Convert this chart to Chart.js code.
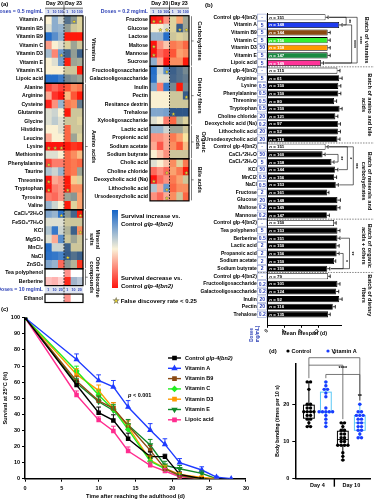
<!DOCTYPE html>
<html><head><meta charset="utf-8">
<script src="https://cdn.jsdelivr.net/npm/chart.js@4.4.1/dist/chart.umd.min.js"></script>
<style>
html,body{margin:0;padding:0;background:#fff;}
body{width:374px;height:500px;position:relative;overflow:hidden;font-family:'Liberation Sans',Arial,sans-serif;font-weight:bold;color:#000;}
canvas{position:absolute;}
.t{position:absolute;white-space:nowrap;line-height:1;}
</style></head><body>
<canvas id="ha" width="100" height="308" style="left:0px;top:0px"></canvas>
<canvas id="hb" width="124" height="206" style="left:88px;top:0px"></canvas>
<canvas id="cb" width="174" height="342" style="left:200px;top:0px"></canvas>
<canvas id="cc" width="252" height="195" style="left:0px;top:305px"></canvas>
<canvas id="cd" width="124" height="160" style="left:250px;top:340px"></canvas>
<div class="t" style="left:1px;top:1px;font-size:6px">(a)</div>
<div class="t" style="left:205px;top:2px;font-size:6px">(b)</div>
<div class="t" style="left:1px;top:306px;font-size:6px">(c)</div>
<div class="t" style="left:269px;top:348px;font-size:6px">(d)</div>
<div style="position:absolute;left:112px;top:210px;width:6px;height:78px;background:linear-gradient(to bottom,rgb(20,100,200),rgb(250,242,216) 50%,rgb(255,20,15));"></div>
<div class="t" style="left:121px;top:212px;font-size:6px;line-height:8px">Survival increase vs.<br>Control <i>glp-4(bn2)</i></div>
<div class="t" style="left:121px;top:274px;font-size:6px;line-height:8px">Survival decrease vs.<br>Control <i>glp-4(bn2)</i></div>
<div class="t" style="left:113px;top:297px;font-size:6px"><span style="color:#ffe81a;-webkit-text-stroke:0.4px #777;font-size:7px">★</span> False discovery rate &lt; 0.25</div>
<script>
// ================= DATA =================
const doseTicks = ['1','10','100','1','10','100'];
const doseTicksEth = ['1','10','20','1','10','20'];
const leftLabels = ['Doses = 0.5 mg/mL','Vitamin A','Vitamin B5','Vitamin B9','Vitamin C','Vitamin D3','Vitamin E','Vitamin K1','Lipoic acid','Alanine','Arginine','Cysteine','Glutamine','Glycine','Histidine','Leucine','Lysine','Methionine','Phenylalanine','Taurine','Threonine','Tryptophan','Tyrosine','Valine','CaCl₂*2H₂O','FeSO₄*7H₂O','KCl','MgSO₄','MnCl₂','NaCl','ZnSO₄','Tea polyphenol','Berberine','Doses = 10 mg/mL','Ethanol'];
const leftValues = [
 null,
 [0.0,0.35,0.1,0.7,0.4,0.05],
 [0.05,0.35,0.3,0.35,0.1,0.05],
 [0.9,0.6,0.35,-1,-1,-1],
 [-0.25,0.0,0.05,0.05,0.3,0.1],
 [0.25,-0.35,0.5,0.8,0.35,0.85],
 [0.0,0.05,0.45,-0.95,0.3,0.25],
 [0.0,0.0,0.0,0.1,0.1,-1],
 [0.9,0.9,0.75,0.5,0.4,0.3],
 [-0.7,-0.5,-0.7,-0.6,-0.3,-0.4],
 [-0.2,-0.8,-1,-0.1,-0.6,-1],
 [-0.9,-0.3,0.3,-0.4,-0.3,0.6],
 [0.05,0.1,0.0,-1,0.1,0.1],
 [0.05,0.15,0.05,0.1,0.1,0.05],
 [0.0,0.0,0.05,-0.5,0.1,0.1],
 [-0.2,0.0,0.0,-0.5,0.3,0.05],
 [-1,-1,-1,-1,-0.8,-0.9],
 [0.05,0.05,0.0,-0.5,-0.3,-0.1],
 [-0.7,-0.4,-0.4,-0.5,-0.4,-0.5],
 [0.2,0.1,0.3,-0.5,-0.4,0.3],
 [-1,-0.2,-0.3,-1,-0.05,0.05],
 [-1,-0.4,-0.3,-1,-0.3,-0.3],
 [-0.4,-0.5,-0.3,0.3,0.4,-0.2],
 [0.3,0.1,0.0,-1,0.05,-0.2],
 [0.4,0.3,0.85,0.4,0.8,-1],
 [0.05,0.05,0.05,0.1,0.1,0.1],
 [0.2,0.8,0.1,0.2,0.85,-0.3],
 [0.05,-0.2,0.6,0.1,0.3,0.1],
 [0.9,0.1,0.1,0.85,0.1,0.1],
 [0.85,0.8,0.7,0.9,0.7,0.85],
 [0.4,0.3,-0.5,0.4,0.2,-0.8],
 [0.0,0.0,0.0,-0.35,0.0,0.0],
 [-0.15,-0.2,-0.1,-0.9,0.3,0.2],
 null,
 [0.0,0.0,0.0,-0.35,0.0,0.0]
];
const leftStars = [[1,4],[5,2],[16,0],[16,1],[16,2],[18,0],[20,0],[21,0],[21,3],[24,2],[24,5],[26,5],[29,3]];
const rightLabels = ['Doses = 0.2 mg/mL','Fructose','Glucose','Lactose','Maltose','Mannose','Sucrose','Fructooligosaccharide','Galactooligosaccharide','Inulin','Pectin','Resitance dextrin','Trehalose','Xylooligosaccharide','Lactic acid','Propionic acid','Sodium acetate','Sodium butyrate','Cholic acid','Choline chloride','Deoxycholic acid (Na)','Lithocholic acid','Ursodeoxycholic acid'];
const rightValues = [
 null,
 [-1,-0.9,-0.3,0.05,-0.2,0.3],
 [0.0,0.0,0.05,0.05,0.9,0.3],
 [0.3,0.3,0.9,0.1,0.05,0.1],
 [-1,-0.3,-0.1,-0.4,-0.3,-0.5],
 [-1,-0.5,-0.7,-0.6,-0.2,-0.3],
 [0.35,-0.2,-1,-0.3,-0.3,-1],
 [0.9,0.1,0.6,0.85,0.7,0.5],
 [0.85,0.05,0.05,0.8,0.7,0.6],
 [0.4,-0.4,0.8,0.5,-1,0.5],
 [0.0,0.0,0.0,0.1,0.1,0.9],
 [0.0,0.0,0.0,0.1,0.1,0.1],
 [0.4,0.4,0.45,0.95,0.95,0.95],
 [0.05,0.0,-0.4,-0.5,0.2,0.05],
 [0.3,0.3,0.1,0.3,0.3,0.1],
 [-0.3,-0.3,-0.2,-0.4,-0.2,0.0],
 [-0.2,-0.6,-0.2,-0.3,-0.6,-0.1],
 [0.0,-0.1,-0.3,0.1,0.1,0.1],
 [0.05,0.0,-0.1,-0.3,0.05,-0.4],
 [-0.5,-0.3,-0.5,-0.2,-0.4,-1],
 [-1,-0.5,-0.3,-0.4,-0.2,0.1],
 [0.2,-0.2,0.5,-0.5,-0.3,-0.3],
 [-0.3,-0.5,-0.2,-0.3,0.1,-0.5]
];
const rightStars = [[1,0],[1,1],[2,1],[2,2],[2,4],[2,5],[4,0],[5,0],[7,2],[10,5],[12,3],[19,2],[19,5],[20,0],[21,2],[22,2]];

const bLabels = ['Control glp-4(bn2)','Vitamin A','Vitamin B9','Vitamin C','Vitamin D3','Vitamin E','Lipoic acid','Control glp-4(bn2)','Arginine','Lysine','Phenylalanine','Threonine','Tryptophan','Choline chloride','Deoxycholic acid (Na)','Lithocholic acid','Ursodeoxycholic acid','Control glp-4(bn2)','CaCl₂*2H₂O','CaCl₂*2H₂O','KCl','MnCl2','NaCl','Fructose','Glucose','Maltose','Mannose','Control glp-4(bn2)','Tea polyphenol','Berberine','Lactic acid','Propanoic acid','Sodium acetate','Sodium butyrate','Control glp-4(bn2)','Fructooligosaccharide','Galactooligosaccharide','Inulin','Pectin','Trehalose'];
const bDoses = ['-','5','5','5','50','5','5','-','5','0.5','0.5','0.5','0.5','20','0.2','20','20','-','50','5','50','0.5','0.5','2','20','0.2','0.2','-','5','0.5','2','2','2','2','-','0.2','0.2','20','20','0.2'];
const bMean = [13.7,16.9,14.2,14.2,14.2,14.2,12.6, 16.5,16.9,16.7,16.7,15.7,17.0,16.0,16.6,16.6,16.5, 13.7,13.0,15.1,15.9,15.7,16.1,14.1,16.5,16.5,14.0, 15.7,16.5,16.5,16.3,16.3,15.7,14.1, 14.3,16.5,16.2,16.9,15.4,14.3];
const bErr = [0.6,0.7,0.6,0.6,0.6,0.6,0.6, 0.6,0.7,0.6,0.6,0.6,0.6,0.6,0.6,0.6,0.6, 0.6,0.6,0.6,0.7,0.6,0.6,0.4,0.7,0.6,0.6, 0.5,0.6,0.6,0.6,0.6,0.4,0.6, 0.5,0.6,0.6,0.7,0.6,0.5];
const bN = [151,148,144,156,158,147,149, 115,61,150,150,80,150,121,97,52,116, 151,160,158,144,156,153,161,148,149,147, 150,153,151,150,156,150,150, 79,101,124,92,116,135];
const bBatches = [[0,6,['Batch of vitamins']],[7,16,['Batch of amino and bile','acids']],[17,26,['Batch of minerals and','carbohydrates']],[27,33,['Batch of organic','acids + others']],[34,39,['Batch of dietary','fibers']]];
const bSig = [[0,1,'**',0],[1,6,'****',1],[0,6,'****',2],[18,19,'**',0],[17,20,'*',1],[17,22,'***',2],[31,33,'*',0],[29,33,'**',1]];

const cNames = ['Control glp-4(bn2)','Vitamin A','Vitamin B9','Vitamin C','Vitamin D3','Vitamin E','Lipoic acid'];
const cDays = [0,7,10,12,14,17,19,21,24,26,28];
const cControl = [100,58.2,41,36.2,24.8,13.7,13.7,2.7,0,null,null];
const cVitA    = [100,74,61,57,44.5,30.2,21.3,10,5.4,1,0];
const cVitB9   = [100,60.7,48.4,43.7,33,17.6,6.2,2,0,null,null];
const cVitC    = [100,66.9,52,42.9,30.6,10.8,6.2,1.9,0,null,null];
const cVitD3   = [100,64.8,54.7,43.7,32.3,11.6,6.4,2.7,0.8,0,null];
const cVitE    = [100,59.4,47.8,42.4,33.3,20.9,8.3,6.2,3.3,0,null];
const cLipoic  = [100,52,36.4,29.6,17.2,8.3,4.8,1.2,0,null,null];
const cErrControl = [0,2.5,3.5,3.5,3.5,3,1.5,1.5,0,0,0];
const cErrVitA    = [0,3.5,3.5,4,4,4,3.5,2.5,2,0.5,0];
const cErrVitB9   = [0,3,3,3.5,3.5,3,2,1,0,0,0];
const cErrVitC    = [0,3,3,3,3,2,2,1,0,0,0];
const cErrVitD3   = [0,3.5,3.5,3.5,3.5,2.5,2,1,0.5,0,0];
const cErrVitE    = [0,3,3,3.5,3.5,3.5,2.5,2,1.5,0,0];
const cErrLipoic  = [0,2.5,2,3,2.5,2,1.5,0.5,0,0,0];

const dDayLabels = ['Day 4','Day 10'];
const dControlDay4  = [26,26,24,20,20,19,19,18,18,18,18,17,17,16,16,15,14,14];
const dVitADay4     = [26,25,24,24,23,22,19,18,18,18,18,18,17,16,15,14];
const dControlDay10 = [15,15,14,13,13,12,12,11,11,10,10,9,9,9,9,7,6,5];
const dVitADay10    = [20,18,18,17,17,17,16,16,15,15,14,14,13,13,12,11,11];

// ================= STYLE / HELPERS =================
const FF = "'Liberation Sans', Arial, sans-serif";
const BLUE = '#2b3fb5';
Chart.defaults.font.family = FF;
Chart.defaults.font.weight = 'bold';
Chart.defaults.color = '#000';
function mix(a,b,t){return a.map((v,i)=>Math.round(v+(b[i]-v)*t));}
function heat(v,d23,white){
  const mid = white ? [255,255,255] : (d23 ? [247,228,160] : [250,240,210]);
  const blue = d23 ? [38,80,135] : [20,100,200];
  const red = d23 ? [255,25,10] : [255,20,15];
  const t = Math.pow(Math.abs(v), 0.7);
  const c = v >= 0 ? mix(mid,blue,t) : mix(mid,red,t);
  return 'rgb(' + c.join(',') + ')';
}
function rotText(ctx, lines, x, y, size, color, sp){
  ctx.save(); ctx.translate(x,y); ctx.rotate(Math.PI/2);
  ctx.font = 'bold ' + size + 'px ' + FF; ctx.textAlign='center'; ctx.textBaseline='middle'; ctx.fillStyle = color || '#000';
  const s = sp || size*1.15;
  lines.forEach((l,i)=> ctx.fillText(l, 0, (i-(lines.length-1)/2)*s));
  ctx.restore();
}
function drawStar(ctx,cx,cy,r){
  ctx.beginPath();
  for(let i=0;i<10;i++){const rr=i%2?r*0.45:r;const a=-Math.PI/2+i*Math.PI/5;ctx.lineTo(cx+rr*Math.cos(a),cy+rr*Math.sin(a));}
  ctx.closePath(); ctx.fillStyle='#ffe81a'; ctx.fill(); ctx.strokeStyle='#666'; ctx.lineWidth=0.4; ctx.stroke();
}

// ================= HEATMAPS =================
function heatDeco(o){
  return {id:'heatDeco', afterDatasetsDraw(chart){
    const {ctx, scales:{x,y}} = chart;
    const rh = Math.abs(y.getPixelForValue(1)-y.getPixelForValue(0));
    const top = i => y.getPixelForValue(i)-rh/2, bot = i => y.getPixelForValue(i)+rh/2;
    const xl = x.getPixelForValue(0), xr = x.getPixelForValue(6), xm = x.getPixelForValue(3);
    ctx.save();
    ctx.textAlign='center'; ctx.textBaseline='middle';
    o.doseRows.forEach(([r,labs])=>{
      ctx.fillStyle='#dfe5f2'; ctx.fillRect(xl, top(r)+1.5, xr-xl, rh-2.5);
      ctx.fillStyle=BLUE; ctx.font='bold 3.6px '+FF;
      labs.forEach((t,c)=>ctx.fillText(t, x.getPixelForValue(c+0.5), y.getPixelForValue(r)+0.5));
    });
    const hy = top(0)-3.4;
    ctx.fillStyle='#000'; ctx.font='bold 5.3px '+FF;
    ctx.fillText('Day 20', x.getPixelForValue(1.5), hy);
    ctx.fillText('Day 23', x.getPixelForValue(4.5), hy);
    ctx.strokeStyle='#000'; ctx.lineWidth=0.6;
    ctx.beginPath(); ctx.moveTo(xl, top(0)+0.8); ctx.lineTo(xr, top(0)+0.8); ctx.moveTo(xm, hy-2.5); ctx.lineTo(xm, top(0)+0.8); ctx.stroke();
    ctx.setLineDash([1.8,1.3]); ctx.lineWidth=0.8;
    o.dash.forEach(([r0,r1])=>{ctx.beginPath(); ctx.moveTo(xm, top(r0)+1); ctx.lineTo(xm, bot(r1)); ctx.stroke();});
    ctx.setLineDash([]);
    o.stars.forEach(([r,c])=>drawStar(ctx, x.getPixelForValue(c+0.6), y.getPixelForValue(r)+1.6, 1.9));
    ctx.strokeStyle='#000'; ctx.lineWidth=1.2;
    o.frames.forEach(([r0,r1])=>ctx.strokeRect(xl, top(r0), xr-xl, bot(r1)-top(r0)));
    o.groups.forEach(([r0,r1,lines])=>{
      const bx = xr+2.5, my = (top(r0)+bot(r1))/2;
      ctx.lineWidth=0.5; ctx.beginPath(); ctx.moveTo(bx, top(r0)+0.5); ctx.lineTo(bx, bot(r1)-0.5); ctx.moveTo(bx,my); ctx.lineTo(bx+2.2,my); ctx.stroke();
      rotText(ctx, lines, bx+ (lines.length>1?9:8), my, 5.6, '#000', 6.2);
    });
    ctx.restore();
  }};
}
function heatChart(id, labels, values, whiteRows, o){
  const datasets = [0,1,2,3,4,5].map(c=>({
    data: values.map(r=> r ? 1 : null),
    backgroundColor: values.map((r,i)=> r ? heat(r[c], c>=3, whiteRows.includes(i)) : 'rgba(0,0,0,0)'),
    borderWidth:0, barPercentage:1, categoryPercentage:1
  }));
  return new Chart(document.getElementById(id), {
    type:'bar', data:{labels, datasets},
    options:{indexAxis:'y', responsive:false, animation:false, layout:{padding:o.padding},
      plugins:{legend:{display:false}, tooltip:{enabled:false}},
      scales:{
        x:{stacked:true, display:false, min:0, max:6},
        y:{stacked:true, grid:{display:false, drawTicks:false}, border:{display:false},
           ticks:{autoSkip:false, padding:2, font:{size:5.2, weight:'bold', family:FF}, color: c => (labels[c.index]||'').startsWith('Doses') ? BLUE : '#000'},
           afterFit: s => { s.width = o.labelW; }}
      }},
    plugins:[heatDeco(o)]
  });
}
heatChart('ha', leftLabels, leftValues, [31,32,34], {
  padding:{top:7.4, bottom:5.5, right:17, left:0}, labelW:45,
  doseRows:[[0,doseTicks],[33,doseTicksEth]], dash:[[0,34]],
  frames:[[1,8],[9,23],[24,30],[31,32],[34,34]],
  groups:[[1,8,['Vitamins']],[9,23,['Amino acids']],[24,30,['Mineral','salts']],[31,32,['Other bioactive','compounds']]],
  stars:leftStars
});
heatChart('hb', rightLabels, rightValues, [], {
  padding:{top:7.3, bottom:3.7, right:23, left:0}, labelW:62,
  doseRows:[[0,doseTicks]], dash:[[0,22]],
  frames:[[1,6],[7,13],[14,17],[18,22]],
  groups:[[1,6,['Carbohydrates']],[7,13,['Dietary fibers']],[14,17,['Organic','acids']],[18,22,['Bile acids']]],
  stars:rightStars
});

// ================= PANEL B =================
const vitColors = {'Vitamin A':'#1f3cf0','Vitamin B9':'#8a4a12','Vitamin C':'#33ee33','Vitamin D3':'#ff9900','Vitamin E':'#1a8a40','Lipoic acid':'#ff3399'};
const bColors = bLabels.map(l => l.startsWith('Control') ? '#fff' : (vitColors[l] || '#000'));
const bDeco = {id:'bDeco', afterDatasetsDraw(chart){
  const {ctx, chartArea:a, scales:{x,y}} = chart;
  const rh = y.getPixelForValue(1)-y.getPixelForValue(0);
  ctx.save();
  const d0 = a.left-9.6, d1 = a.left-0.6;
  ctx.textBaseline='middle';
  bDoses.forEach((d,i)=>{
    const cy = y.getPixelForValue(i);
    ctx.fillStyle='#fff'; ctx.fillRect(d0, cy-rh/2+0.6, d1-d0, rh-1.2);
    ctx.strokeStyle='#8090c8'; ctx.lineWidth=0.5; ctx.strokeRect(d0, cy-rh/2+0.6, d1-d0, rh-1.2);
    ctx.fillStyle=BLUE; ctx.font='bold 5px '+FF; ctx.textAlign='center'; ctx.fillText(d,(d0+d1)/2, cy+0.3);
  });
  bMean.forEach((v,i)=>{
    const cy = y.getPixelForValue(i), x0 = x.getPixelForValue(v), x1 = x.getPixelForValue(v+bErr[i]);
    ctx.strokeStyle='#000'; ctx.lineWidth=0.8;
    ctx.beginPath(); ctx.moveTo(x0,cy); ctx.lineTo(x1,cy); ctx.moveTo(x1,cy-1.8); ctx.lineTo(x1,cy+1.8); ctx.stroke();
    ctx.fillStyle = bColors[i]==='#fff' ? '#000' : '#fff';
    ctx.textAlign='left'; ctx.font='italic bold 4.4px '+FF; ctx.fillText('n', a.left+2, cy+0.3);
    const w = ctx.measureText('n').width;
    ctx.font='bold 4.4px '+FF; ctx.fillText(' = '+bN[i], a.left+2+w, cy+0.3);
  });
  ctx.setLineDash([1.5,1.2]); ctx.strokeStyle='#555'; ctx.lineWidth=0.7;
  [6,16,26,33].forEach(r=>{const yy=(y.getPixelForValue(r)+y.getPixelForValue(r+1))/2; ctx.beginPath(); ctx.moveTo(d0,yy); ctx.lineTo(chart.width,yy); ctx.stroke();});
  ctx.setLineDash([]);
  ctx.strokeStyle='#000'; ctx.lineWidth=0.6;
  bSig.forEach(([r0,r1,lab,lvl])=>{
    let mx = 0; for(let k=r0;k<=r1;k++) mx = Math.max(mx, x.getPixelForValue(bMean[k]+bErr[k]));
    const bx = mx + 4 + lvl*5.5, y0 = y.getPixelForValue(r0), y1 = y.getPixelForValue(r1);
    ctx.beginPath();
    ctx.moveTo(x.getPixelForValue(bMean[r0]+bErr[r0])+1, y0); ctx.lineTo(bx,y0); ctx.lineTo(bx,y1);
    ctx.lineTo(x.getPixelForValue(bMean[r1]+bErr[r1])+1, y1); ctx.stroke();
    rotText(ctx,[lab], bx+2.2, (y0+y1)/2, 5, '#000');
  });
  bBatches.forEach(([r0,r1,lines])=>{
    const my = (y.getPixelForValue(r0)+y.getPixelForValue(r1))/2;
    rotText(ctx, lines, 166.5, my, 5.6, '#000', 6.3);
  });
  ctx.save(); ctx.translate(d0-3, a.bottom+9); ctx.rotate(-Math.PI/2);
  ctx.fillStyle=BLUE; ctx.font='bold 4.6px '+FF; ctx.textAlign='center';
  ctx.fillText('Doses', 0, -2.8); ctx.fillText('(mg/mL)', 0, 2.8); ctx.restore();
  ctx.restore();
}};
new Chart(document.getElementById('cb'), {
  type:'bar',
  data:{labels: bLabels.concat(['']), datasets:[{data: bMean.concat([null]), backgroundColor: bColors, borderColor:'#000', borderWidth:0.8, barPercentage:1, categoryPercentage:0.8}]},
  options:{indexAxis:'y', responsive:false, animation:false,
    layout:{padding:{top:3.37, right:32.3, left:0, bottom:0}},
    plugins:{legend:{display:false}, tooltip:{enabled:false}},
    scales:{
      x:{min:0, max:17.5, grid:{display:true, drawOnChartArea:false, drawTicks:true, tickLength:2, color:'#000'}, border:{color:'#000', width:1},
         ticks:{stepSize:2, padding:0, font:{size:5}}, afterBuildTicks: s => { s.ticks = s.ticks.filter(t => t.value <= 16); },
         title:{display:true, text:'Mean lifespan (d)', font:{size:5.5, weight:'bold'}, padding:{top:0, bottom:5}},
         afterFit: s => { s.height = 16.2; }},
      y:{grid:{display:false, drawTicks:false}, border:{color:'#000', width:1},
         ticks:{autoSkip:false, padding:10.5, font:{size:5}}, afterFit: s => { s.width = 67.3; }}
    }},
  plugins:[bDeco]
});

// ================= PANEL C =================
const cValues = [cControl,cVitA,cVitB9,cVitC,cVitD3,cVitE,cLipoic];
const cErrs = [cErrControl,cErrVitA,cErrVitB9,cErrVitC,cErrVitD3,cErrVitE,cErrLipoic];
const cColors = ['#000000','#1f3cff','#8b4a14','#22ee22','#ff9a00','#138a2a','#ff2d8f'];
const cMarkers = [['rect',0],['triangle',0],['rect',0],['rectRot',0],['rect',0],['triangle',180],['rect',0]];
const cDeco = {id:'cDeco', afterDatasetsDraw(chart){
  const {ctx, scales:{x,y}} = chart;
  ctx.save();
  chart.data.datasets.forEach(ds=>{
    ctx.strokeStyle = ds.borderColor; ctx.lineWidth=1;
    ds.data.forEach(p=>{ if(!p.e) return;
      const px=x.getPixelForValue(p.x), py=y.getPixelForValue(p.y), pe=y.getPixelForValue(p.y+p.e);
      ctx.beginPath(); ctx.moveTo(px,py); ctx.lineTo(px,pe); ctx.moveTo(px-2.3,pe); ctx.lineTo(px+2.3,pe); ctx.stroke();
    });
  });
  chart.data.datasets.forEach((ds,k)=>{
    const ly = 53 + k*10.3, lx = 168;
    ctx.strokeStyle=ds.borderColor; ctx.lineWidth=1.4; ctx.beginPath(); ctx.moveTo(lx,ly); ctx.lineTo(lx+13,ly); ctx.stroke();
    ctx.fillStyle=ds.backgroundColor;
    Chart.helpers.drawPoint(ctx, {pointStyle:ds.pointStyle, rotation:ds.pointRotation||0, radius:2.3, borderWidth:1}, lx+6.5, ly);
    ctx.fillStyle='#000'; ctx.textAlign='left'; ctx.textBaseline='middle';
    if (ds.label.startsWith('Control')) {
      ctx.font='bold 5.5px '+FF; ctx.fillText('Control ', lx+17, ly);
      const w = ctx.measureText('Control ').width;
      ctx.font='italic bold 5.5px '+FF; ctx.fillText(ds.label.slice(8), lx+17+w, ly);
    } else { ctx.font='bold 5.5px '+FF; ctx.fillText(ds.label, lx+17, ly); }
  });
  ctx.textAlign='left'; ctx.textBaseline='middle'; ctx.fillStyle='#000';
  ctx.font='italic bold 5.5px '+FF; ctx.fillText('p', 128, 90);
  const pw = ctx.measureText('p').width;
  ctx.font='bold 5.5px '+FF; ctx.fillText(' < 0.001', 128+pw, 90);
  ctx.restore();
}};
new Chart(document.getElementById('cc'), {
  type:'line',
  data:{datasets: cValues.map((vals,k)=>({
    label:cNames[k],
    data: cDays.map((d,i)=>({x:d, y:vals[i], e:cErrs[k][i]})).filter(p=>p.y!==null),
    borderColor:cColors[k], backgroundColor:cColors[k], pointStyle:cMarkers[k][0], pointRotation:cMarkers[k][1],
    pointRadius:2.2, borderWidth:1.4, tension:0
  }))},
  options:{responsive:false, animation:false,
    layout:{padding:{top:12.7, right:4, left:0, bottom:0}},
    plugins:{legend:{display:false}, tooltip:{enabled:false}},
    scales:{
      x:{type:'linear', min:0, max:30, ticks:{stepSize:5, padding:3, font:{size:5.5}},
         grid:{display:true, drawOnChartArea:false, tickLength:3, color:'#000'}, border:{color:'#000', width:1.5},
         title:{display:true, text:'Time after reaching the adulthood (d)', font:{size:5.6, weight:'bold'}, padding:{top:0, bottom:0}},
         afterFit: s => { s.height = 21.3; }},
      y:{min:0, max:100, ticks:{stepSize:10, padding:2, font:{size:5.5}},
         grid:{display:true, drawOnChartArea:false, tickLength:3, color:'#000'}, border:{color:'#000', width:1.5},
         title:{display:true, text:'Survival at 25°C (%)', font:{size:5.6, weight:'bold'}, padding:{top:2, bottom:0}},
         afterFit: s => { s.width = 25; }}
    }},
  plugins:[cDeco]
});

// ================= PANEL D =================
const dGroups = [
  {pos:0.8, vals:dControlDay4, set:0},
  {pos:1.8, vals:dVitADay4, set:1},
  {pos:2.8, vals:dControlDay10, set:0},
  {pos:3.8, vals:dVitADay10, set:1}
];
const dDayPos = [1.3, 3.3];
function jitter(vals, pos){
  const seen = {}, counts = {};
  vals.forEach(v=>counts[v]=(counts[v]||0)+1);
  return vals.map(v=>{ const k = seen[v]||0; seen[v]=k+1; return {x: pos + (k-(counts[v]-1)/2)*0.2, y: v}; });
}
function quant(s,q){const p=(s.length-1)*q, lo=Math.floor(p), hi=Math.ceil(p); return s[lo]+(s[hi]-s[lo])*(p-lo);}
const dPts = [[],[]];
dGroups.forEach(g => dPts[g.set].push(...jitter(g.vals, g.pos)));
const dBoxColors = ['#000','#5cc8f5'];
const dDeco = {id:'dDeco',
  beforeDatasetsDraw(chart){
    const {ctx, scales:{x,y}} = chart;
    ctx.save();
    dGroups.forEach(g=>{
      const s=[...g.vals].sort((a,b)=>a-b);
      const q1=quant(s,0.25), md=quant(s,0.5), q3=quant(s,0.75);
      const cx=x.getPixelForValue(g.pos), w=5.4;
      ctx.strokeStyle=dBoxColors[g.set]; ctx.lineWidth=1;
      ctx.strokeRect(cx-w, y.getPixelForValue(q3), 2*w, y.getPixelForValue(q1)-y.getPixelForValue(q3));
      ctx.beginPath();
      ctx.moveTo(cx-w, y.getPixelForValue(md)); ctx.lineTo(cx+w, y.getPixelForValue(md));
      ctx.moveTo(cx, y.getPixelForValue(q3)); ctx.lineTo(cx, y.getPixelForValue(s[s.length-1]));
      ctx.moveTo(cx, y.getPixelForValue(q1)); ctx.lineTo(cx, y.getPixelForValue(s[0]));
      ctx.moveTo(cx-2, y.getPixelForValue(s[s.length-1])); ctx.lineTo(cx+2, y.getPixelForValue(s[s.length-1]));
      ctx.moveTo(cx-2, y.getPixelForValue(s[0])); ctx.lineTo(cx+2, y.getPixelForValue(s[0]));
      ctx.stroke();
    });
    ctx.restore();
  },
  afterDraw(chart){
    const {ctx, chartArea:a, scales:{x,y}} = chart;
    ctx.save();
    ctx.strokeStyle='#555'; ctx.lineWidth=0.8; ctx.fillStyle='#000';
    ctx.textAlign='center'; ctx.textBaseline='middle'; ctx.font='bold 5.5px '+FF;
    const br = (p0,p1,v,drop0,drop1,lab,lx,ly)=>{
      const yy=y.getPixelForValue(v);
      ctx.beginPath(); ctx.moveTo(x.getPixelForValue(p0), y.getPixelForValue(drop0)); ctx.lineTo(x.getPixelForValue(p0),yy);
      ctx.lineTo(x.getPixelForValue(p1),yy); ctx.lineTo(x.getPixelForValue(p1), y.getPixelForValue(drop1)); ctx.stroke();
      ctx.fillText(lab, x.getPixelForValue(lx), y.getPixelForValue(ly));
    };
    br(dGroups[0].pos, dGroups[3].pos, 32.5, 27, 21, '*', 2.3, 33.4);
    br(dGroups[0].pos, dGroups[2].pos, 30.5, 30.5, 16, '****', 2.8, 29.6);
    br(dGroups[1].pos, dGroups[3].pos, 28, 27, 21, '**', 3.8, 22.2);
    ctx.strokeStyle='#000'; ctx.lineWidth=1.4;
    const sx = x.getPixelForValue((dGroups[1].pos+dGroups[2].pos)/2);
    ctx.beginPath(); ctx.moveTo(sx, a.bottom); ctx.lineTo(sx, a.bottom+8); ctx.stroke();
    ctx.textAlign='left';
    ctx.fillStyle='#000'; ctx.beginPath(); ctx.arc(38,11,1.6,0,7); ctx.fill(); ctx.fillText('Control', 41.5, 11);
    ctx.fillStyle='#1a3cff'; ctx.beginPath(); ctx.arc(78,11,1.6,0,7); ctx.fill(); ctx.fillStyle='#000'; ctx.fillText('Vitamin A', 81.5, 11);
    ctx.restore();
  }
};
new Chart(document.getElementById('cd'), {
  type:'scatter',
  data:{datasets:[
    {label:'Control', data:dPts[0], backgroundColor:'#000', borderColor:'#000', pointRadius:1.7, borderWidth:0},
    {label:'Vitamin A', data:dPts[1], backgroundColor:'#1a3cff', borderColor:'#1a3cff', pointRadius:1.7, borderWidth:0}
  ]},
  options:{responsive:false, animation:false,
    layout:{padding:{top:23.3, right:4, left:0, bottom:0}},
    plugins:{legend:{display:false}, tooltip:{enabled:false}},
    scales:{
      x:{type:'linear', min:0, max:4.4, grid:{display:false, drawTicks:false}, border:{color:'#000', width:1.5},
         ticks:{padding:3, font:{size:5.5}, callback:(v,i)=>dDayLabels[i]},
         afterBuildTicks: s => { s.ticks = dDayPos.map(v=>({value:v})); },
         afterFit: s => { s.height = 21.3; }},
      y:{min:0, max:31, ticks:{stepSize:10, padding:3, font:{size:5.5}},
         afterBuildTicks: s => { s.ticks = s.ticks.filter(t => t.value % 10 === 0); },
         grid:{display:true, drawOnChartArea:false, tickLength:3, color:'#000'}, border:{color:'#000', width:1.5},
         title:{display:true, text:'Body bending (times per 10 s)', font:{size:5, weight:'bold'}, padding:{top:25, bottom:0}},
         afterFit: s => { s.width = 45.3; }}
    }},
  plugins:[dDeco]
});
</script>
</body></html>
